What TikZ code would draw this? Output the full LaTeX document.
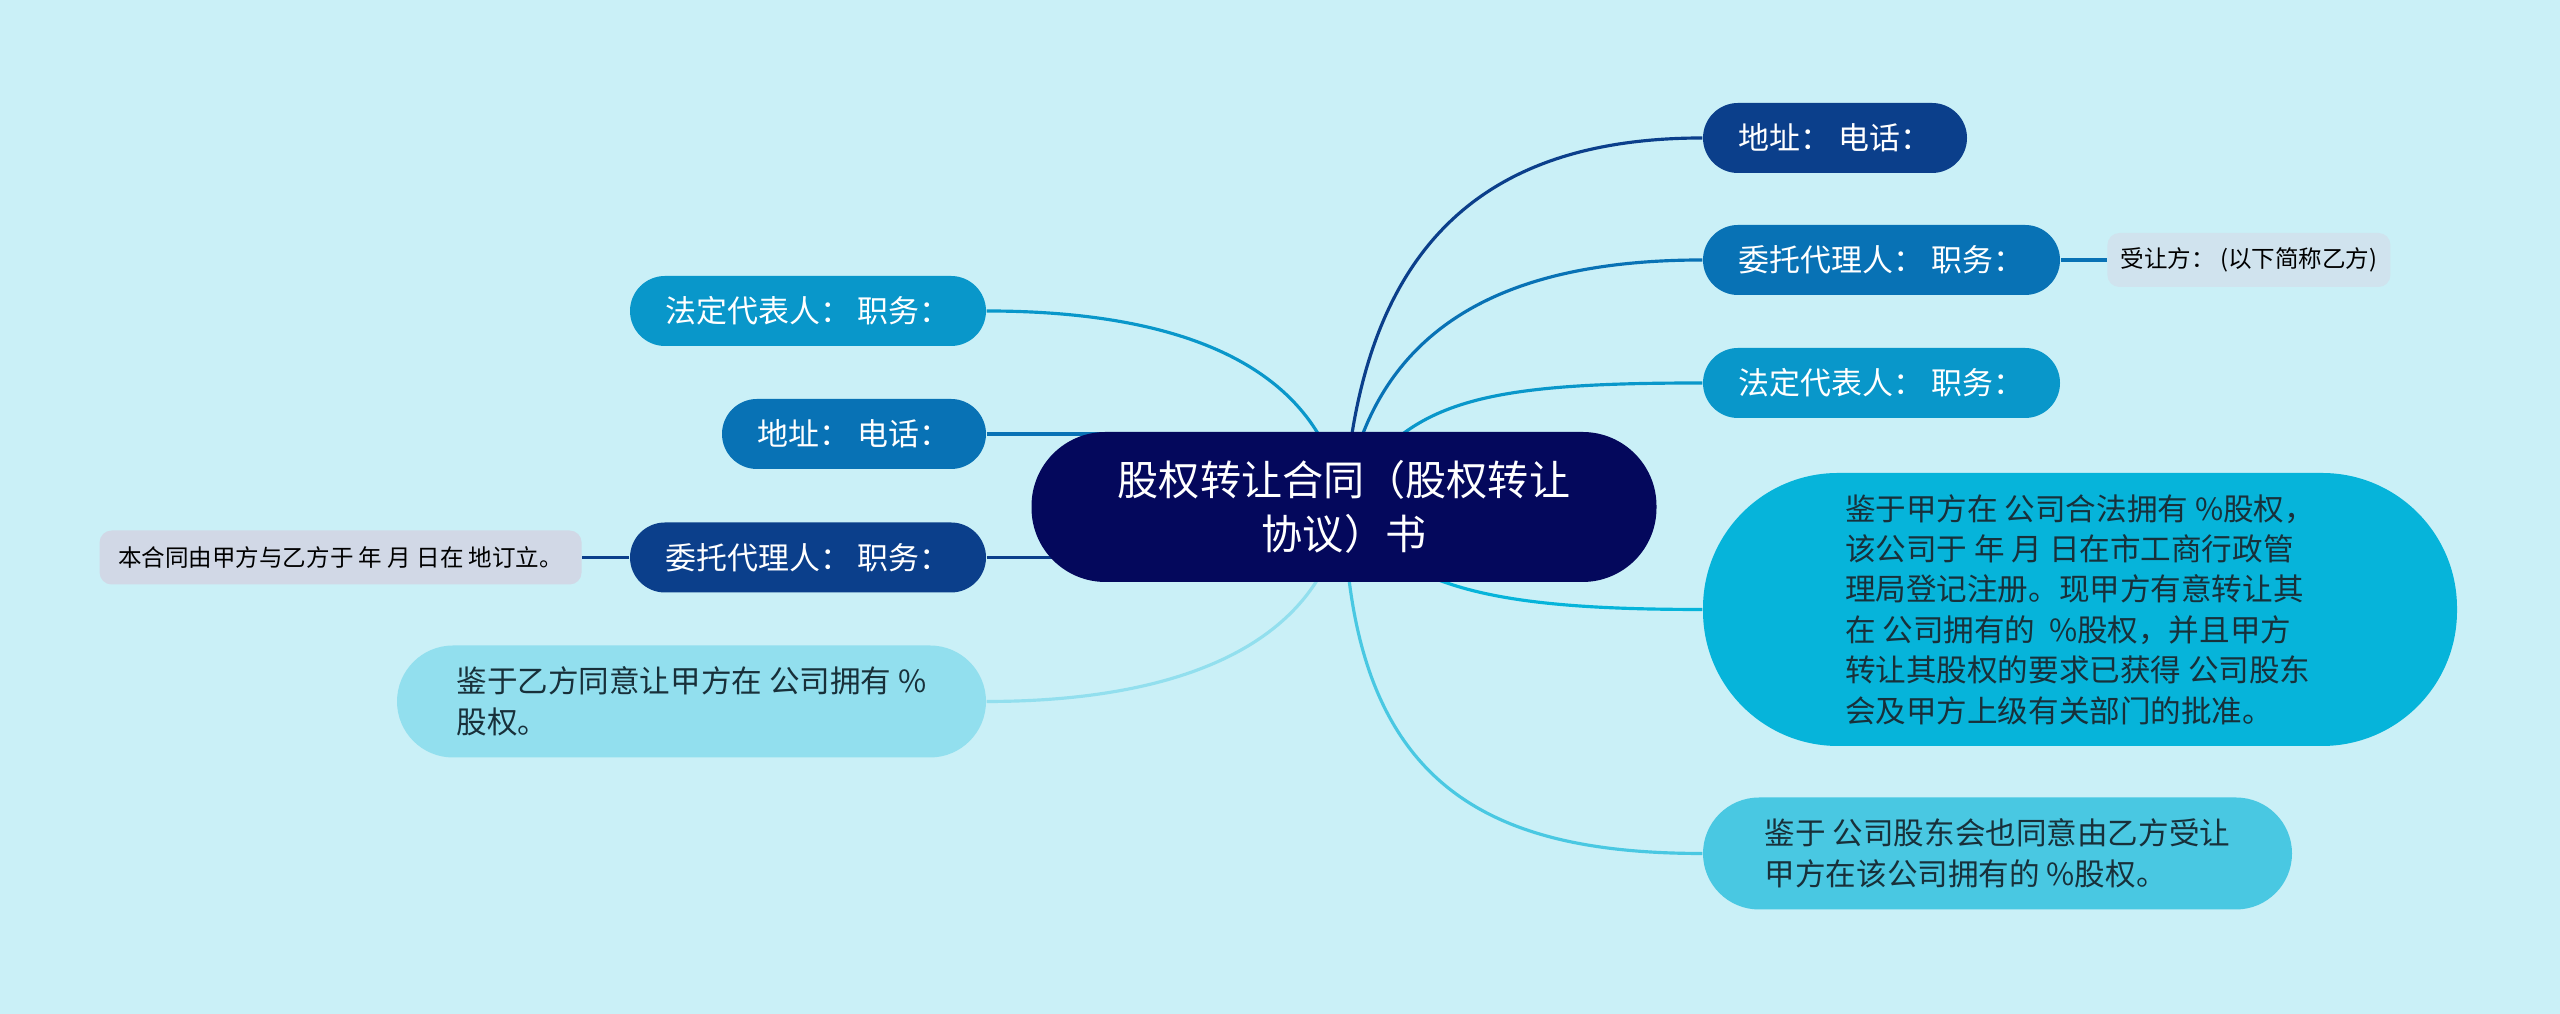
\documentclass[tikz,border=0pt]{standalone}
\usepackage{fontspec}
\setmainfont{Noto Sans CJK SC}
\usetikzlibrary{positioning,backgrounds}
\definecolor{bgsky}{HTML}{CAF0F7}
\definecolor{navy}{HTML}{04085C}
\definecolor{blueA}{HTML}{0B3F8B}
\definecolor{blueB}{HTML}{0872B5}
\definecolor{blueC}{HTML}{0997CA}
\definecolor{cyanA}{HTML}{06B4DA}
\definecolor{cyanB}{HTML}{49C8E2}
\definecolor{cyanC}{HTML}{92DFEE}
\definecolor{tagA}{HTML}{D0E3EE}
\definecolor{tagB}{HTML}{D1D8E6}
\definecolor{ink}{HTML}{18303A}
\tikzset{
  root/.style={fill=navy,text=white,rounded corners=0.74cm,minimum width=6.25cm,
    minimum height=1.5cm,align=center,font=\fontsize{11.7}{15.2}\selectfont},
  lvl/.style={rounded corners=0.35cm,minimum height=0.7cm,text=white,
    font=\fontsize{8.8}{11.5}\selectfont},
  para/.style={rounded corners=0.56cm,minimum height=1.12cm,minimum width=5.89cm,
    text=ink,align=left,font=\fontsize{8.7}{11.5}\selectfont},
  tag/.style={rounded corners=0.12cm,minimum height=0.54cm,inner xsep=0.12cm,
    text=black,font=\fontsize{6.7}{8}\selectfont},
  conn/.style={line width=0.9pt},
}

\begin{document}
\begin{tikzpicture}
  \useasboundingbox (0,0) rectangle (25.6,10.14);
  \node[root] (ctr) at (13.44,5.07) {股权转让合同（股权转让\\协议）书};
  % right side
  \node[lvl,fill=blueA,minimum width=2.64cm] (rAddr) at (18.35,8.76) {地址： 电话：};
  \node[lvl,fill=blueB,minimum width=3.57cm] (rAgent) at (18.815,7.54) {委托代理人： 职务：};
  \node[tag,fill=tagA,minimum width=2.83cm,right=0.46cm of rAgent] (rBuyer) {受让方： (以下简称乙方)};
  \node[lvl,fill=blueC,minimum width=3.57cm] (rRep) at (18.815,6.31) {法定代表人： 职务：};
  \node[para,fill=cyanA,minimum width=7.54cm,minimum height=2.73cm,rounded corners=1.35cm] (rOwn) at (20.80,4.045)
    {鉴于甲方在 公司合法拥有 \%股权，\\该公司于 年 月 日在市工商行政管\\理局登记注册。现甲方有意转让其\\在 公司拥有的\ \ \%股权，并且甲方\\转让其股权的要求已获得 公司股东\\会及甲方上级有关部门的批准。};
  \node[para,fill=cyanB] (rAgree) at (19.975,1.605)
    {鉴于 公司股东会也同意由乙方受让\\甲方在该公司拥有的 \%股权。};
  % left side
  \node[lvl,fill=blueC,minimum width=3.56cm] (lRep) at (8.08,7.03) {法定代表人： 职务：};
  \node[lvl,fill=blueB,minimum width=2.64cm] (lAddr) at (8.54,5.80) {地址： 电话：};
  \node[lvl,fill=blueA,minimum width=3.56cm] (lAgent) at (8.08,4.565) {委托代理人： 职务：};
  \node[tag,fill=tagB,minimum width=4.82cm,left=0.47cm of lAgent] (lSign) {本合同由甲方与乙方于 年 月 日在 地订立。};
  \node[para,fill=cyanC] (lConsent) at (6.915,3.125) {鉴于乙方同意让甲方在 公司拥有 \%\\股权。};
  % connectors
  \begin{scope}[on background layer]
    \fill[bgsky] (0,0) rectangle (25.6,10.14);
    \draw[conn,blueA] (ctr.center) .. controls +(0.16,2.57) and +(-2.23,0) .. (rAddr.west);
    \draw[conn,blueB] (ctr.center) .. controls +(0.26,1.77) and +(-2.03,0) .. (rAgent.west);
    \draw[conn,blueC] (ctr.center) .. controls +(0.56,1.07) and +(-2.23,0) .. (rRep.west);
    \draw[conn,cyanA] (ctr.center) .. controls +(0.56,-0.83) and +(-2.03,0) .. (rOwn.west);
    \draw[conn,cyanB] (ctr.center) .. controls +(0.06,-2.73) and +(-2.23,0) .. (rAgree.west);
    \draw[conn,blueB] (rAgent.east) -- (rBuyer.west);
    \draw[conn,blueC] (ctr.center) .. controls +(-0.24,1.57) and +(1.64,0) .. (lRep.east);
    \draw[conn,blueB] (lAddr.east) -- (ctr.center |- lAddr.east);
    \draw[conn,blueA] (lAgent.east) -- (ctr.center |- lAgent.east);
    \draw[conn,blueA] (lAgent.west) -- (lSign.east);
    \draw[conn,cyanC] (ctr.center) .. controls +(-0.24,-1.53) and +(1.64,0) .. (lConsent.east);
  \end{scope}
\end{tikzpicture}
\end{document}
